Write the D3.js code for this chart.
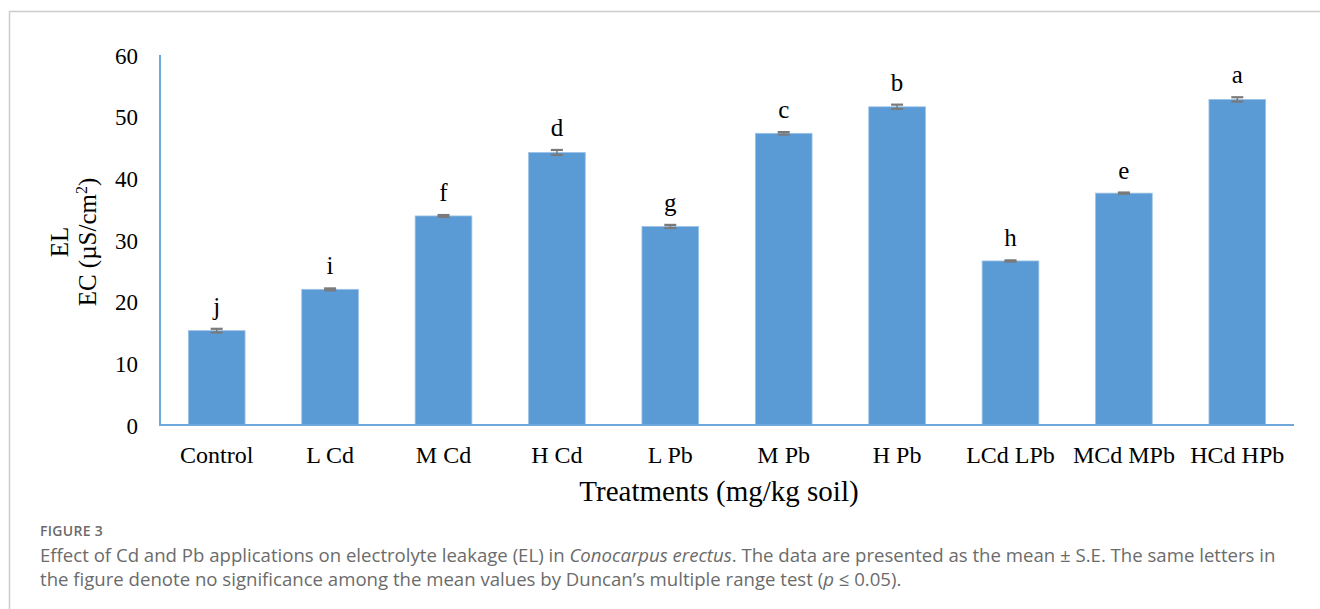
<!DOCTYPE html>
<html>
<head>
<meta charset="utf-8">
<script src="https://cdn.jsdelivr.net/npm/d3@7"></script>
<style>
  body { margin: 0; background: #fff; }
  svg text { font-family: "Liberation Serif", "Times New Roman", serif; fill: #000; }
  .cap { font-family: "Open Sans", "Noto Sans", sans-serif; fill: #6b6b6b; }
</style>
</head>
<body>
<div id="viz"></div>
<script>
var treatments = ["Control", "L Cd", "M Cd", "H Cd", "L Pb", "M Pb", "H Pb", "LCd LPb", "MCd MPb", "HCd HPb"];
var elValues = [15.3, 22.0, 33.9, 44.2, 32.2, 47.3, 51.6, 26.6, 37.6, 52.8];
var elErrors = [0.3, 0.15, 0.15, 0.4, 0.25, 0.2, 0.35, 0.1, 0.1, 0.35];
var letters = ["j", "i", "f", "d", "g", "c", "b", "h", "e", "a"];
var yTicks = [0, 10, 20, 30, 40, 50, 60];

var width = 1320,
    height = 609;

var plot = {left: 160, right: 1294, top: 55, bottom: 425};

var svg = d3.select("#viz").append("svg")
    .attr("width", width)
    .attr("height", height);

// outer frame (top + left only are visible)
svg.append("path")
    .attr("d", "M9.5,609 V11.5 H1320")
    .style("fill", "none")
    .style("stroke", "#cccccc")
    .style("stroke-width", 1.5);

var x = d3.scaleBand()
    .domain(treatments)
    .range([plot.left, plot.right])
    .paddingInner(0.5)
    .paddingOuter(0.25);

var y = d3.scaleLinear()
    .domain([0, 60])
    .range([plot.bottom, plot.top]);

// bars
svg.selectAll(".bar")
    .data(treatments)
    .enter().append("rect")
    .attr("class", "bar")
    .attr("x", function(d) { return x(d); })
    .attr("width", x.bandwidth())
    .attr("y", function(d, i) { return y(elValues[i]); })
    .attr("height", function(d, i) { return y(0) - y(elValues[i]); })
    .style("fill", "#5b9bd5")
    .style("stroke", "#9dc3e6")
    .style("stroke-width", 0.8);

// error bars
var capW = 6;
var err = svg.append("g").style("stroke", "#7a7a7a").style("stroke-width", 2.2);
treatments.forEach(function(d, i) {
    var cx = x(d) + x.bandwidth() / 2,
        lo = y(elValues[i] - elErrors[i]),
        hi = y(elValues[i] + elErrors[i]);
    err.append("line").attr("x1", cx).attr("x2", cx).attr("y1", lo).attr("y2", hi).style("stroke-width", 1.5);
    err.append("line").attr("x1", cx - capW).attr("x2", cx + capW).attr("y1", lo).attr("y2", lo);
    err.append("line").attr("x1", cx - capW).attr("x2", cx + capW).attr("y1", hi).attr("y2", hi);
});

// significance letters
svg.selectAll(".letter")
    .data(treatments)
    .enter().append("text")
    .attr("class", "letter")
    .attr("x", function(d) { return x(d) + x.bandwidth() / 2; })
    .attr("y", function(d, i) { return y(elValues[i] + elErrors[i]) - 14; })
    .attr("text-anchor", "middle")
    .style("font-size", "25px")
    .text(function(d, i) { return letters[i]; });

// axes lines
svg.append("path")
    .attr("d", "M" + plot.left + "," + plot.top + " V" + plot.bottom + " H" + plot.right)
    .style("fill", "none")
    .style("stroke", "#6fa8dc")
    .style("stroke-width", 2);

// y tick labels
var yAxis = svg.append("g")
    .attr("transform", "translate(" + plot.left + ",0)")
    .call(d3.axisLeft(y).tickValues(yTicks).tickSize(0).tickPadding(22));
yAxis.select(".domain").remove();
yAxis.selectAll("text")
    .style("font-family", "'Liberation Serif', serif")
    .style("font-size", "23px")
    .attr("dy", "0.35em");

// x tick labels
var xAxis = svg.append("g")
    .attr("transform", "translate(0," + plot.bottom + ")")
    .call(d3.axisBottom(x).tickSize(0).tickPadding(21));
xAxis.select(".domain").remove();
xAxis.selectAll("text")
    .style("font-family", "'Liberation Serif', serif")
    .style("font-size", "24px");

// axis titles
svg.append("text")
    .attr("x", 719)
    .attr("y", 501)
    .attr("text-anchor", "middle")
    .style("font-size", "29px")
    .text("Treatments (mg/kg soil)");

var yl = svg.append("text")
    .attr("transform", "translate(0,242) rotate(-90)")
    .attr("text-anchor", "middle")
    .style("font-size", "25px");
yl.append("tspan").attr("x", 0).attr("y", 68).text("EL");
yl.append("tspan").attr("x", 0).attr("y", 96).text("EC (µS/cm");
yl.append("tspan").attr("dy", -9).style("font-size", "16px").text("2");
yl.append("tspan").attr("dy", 9).text(")");

// caption
svg.append("text")
    .attr("class", "cap")
    .attr("x", 40)
    .attr("y", 536)
    .style("font-size", "14px")
    .style("font-weight", "600")
    .style("letter-spacing", "0.3px")
    .text("FIGURE 3");

var c1 = svg.append("text").attr("class", "cap").attr("x", 40).attr("y", 562).style("font-size", "18.6px");
c1.append("tspan").text("Effect of Cd and Pb applications on electrolyte leakage (EL) in ");
c1.append("tspan").style("font-style", "italic").text("Conocarpus erectus");
c1.append("tspan").text(". The data are presented as the mean \u00B1 S.E. The same letters in");

var c2 = svg.append("text").attr("class", "cap").attr("x", 40).attr("y", 586).style("font-size", "18.6px");
c2.append("tspan").text("the figure denote no significance among the mean values by Duncan\u2019s multiple range test (");
c2.append("tspan").style("font-style", "italic").text("p");
c2.append("tspan").text(" \u2264 0.05).");
</script>
</body>
</html>
